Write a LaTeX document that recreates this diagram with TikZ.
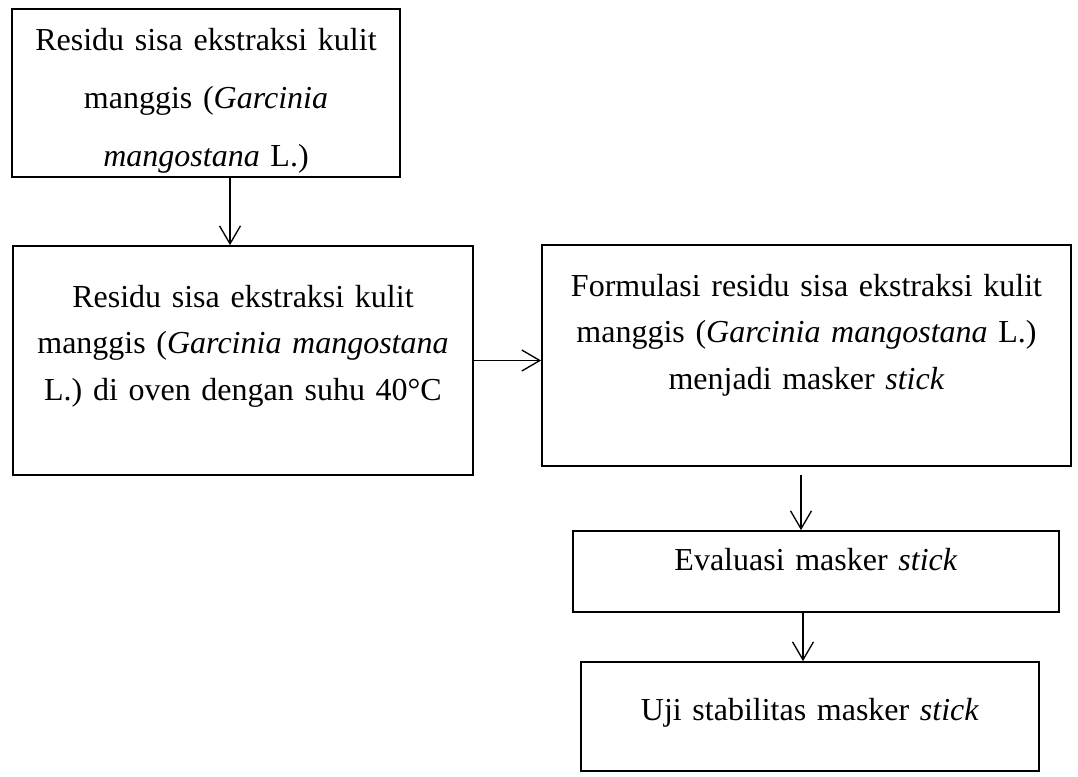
\documentclass[tikz,border=0pt]{standalone}
\usepackage{fontspec}
\setmainfont{Liberation Serif}
\usetikzlibrary{arrows.meta}
\tikzset{
  procbox/.style={draw, line width=1.3pt, align=center, inner sep=0pt,
    font=\fontsize{24pt}{34.9pt}\selectfont},
  flowedge/.style={line width=1pt, -{Straight Barb[length=13.5pt, width=15.75pt]}}
}

\begin{document}
\begin{tikzpicture}[x=0.75pt, y=-0.75pt]
  \useasboundingbox (0,0) rectangle (1078,776);

  \node[procbox, text width=291pt, text height=30.75pt, text depth=95.25pt,
    font=\fontsize{24pt}{43.5pt}\selectfont] (res) at (206,93)
    {Residu sisa ekstraksi kulit\\ manggis (\textit{Garcinia}\\ \textit{mangostana} L.)};
  \node[procbox, text width=345pt, text height=45.75pt, text depth=126pt] (oven) at (243,360.5)
    {Residu sisa ekstraksi kulit\\ manggis (\textit{Garcinia mangostana}\\ L.) di oven dengan suhu 40°C};
  \node[procbox, text width=396.75pt, text height=38.25pt, text depth=127.5pt] (formula) at (806.5,355.5)
    {Formulasi residu sisa ekstraksi kulit\\ manggis (\textit{Garcinia mangostana} L.)\\ menjadi masker \textit{stick}};
  \node[procbox, text width=364.5pt, text height=29.25pt, text depth=31.5pt] (eval) at (816,571.5)
    {Evaluasi masker \textit{stick}};
  \node[procbox, text width=343.5pt, text height=43.5pt, text depth=38.25pt] (stab) at (810,716.5)
    {Uji stabilitas masker \textit{stick}};

  \coordinate (ab) at (230,0);
  \coordinate (cd) at (801,0);
  \coordinate (de) at (803,0);

  \draw[flowedge] (res.south -| ab) -- (oven.north -| ab);
  \draw[flowedge] (oven.east) -- (oven.east -| formula.west);
  \draw[flowedge, shorten <=6pt] (formula.south -| cd) -- (eval.north -| cd);
  \draw[flowedge] (eval.south -| de) -- (stab.north -| de);
\end{tikzpicture}
\end{document}
